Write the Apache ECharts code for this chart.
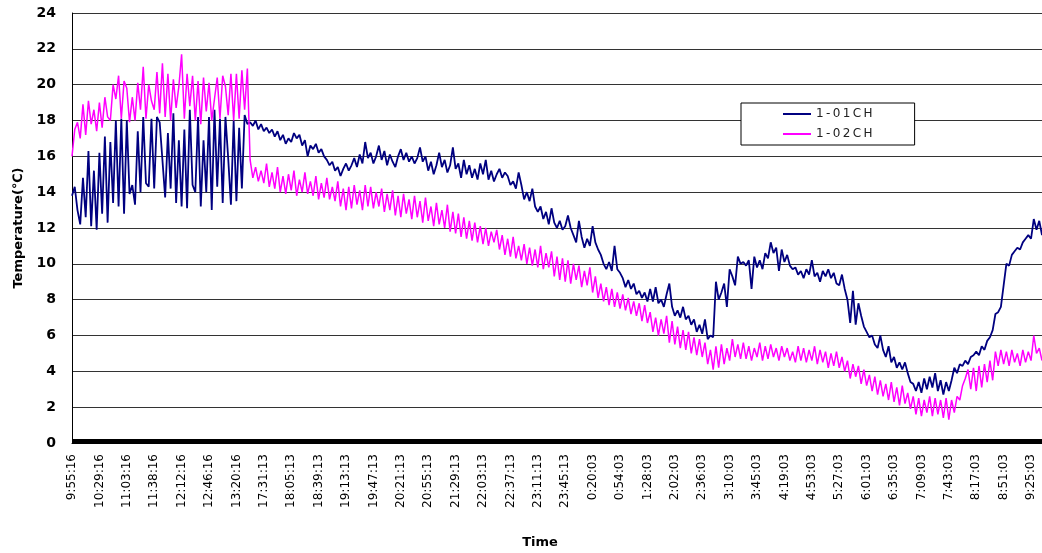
<!DOCTYPE html>
<html>
<head>
<meta charset="utf-8">
<script src="https://cdn.jsdelivr.net/npm/echarts@6/dist/echarts.min.js"></script>
<style>
html,body{margin:0;padding:0;background:#fff;}
#chart{width:1042px;height:553px;}
</style>
</head>
<body>
<div id="chart"></div>
<script>
// Tick labels shown every 10th sample
const tickLabels = ["9:55:16","10:29:16","11:03:16","11:38:16","12:12:16","12:46:16","13:20:16",
  "17:31:13","18:05:13","18:39:13","19:13:13","19:47:13","20:21:13","20:55:13","21:29:13","22:03:13",
  "22:37:13","23:11:13","23:45:13","0:20:03","0:54:03","1:28:03","2:02:03","2:36:03","3:10:03",
  "3:45:03","4:19:03","4:53:03","5:27:03","6:01:03","6:35:03","7:09:03","7:43:03","8:17:03",
  "8:51:03","9:25:03"];
const LABEL_STEP = 10;

const ch1 = [
 13.8,14.3,13.0,12.2,14.8,12.6,16.3,12.1,15.2,11.9,
 16.2,12.8,17.1,12.3,16.8,13.4,18.0,13.2,18.1,12.8,
 18.0,13.9,14.4,13.3,17.4,14.0,18.2,14.5,14.3,18.1,
 14.2,18.2,17.9,15.8,13.7,17.3,14.2,18.4,13.4,16.9,
 13.2,17.5,13.1,18.6,14.4,14.0,18.2,13.2,16.9,14.0,
 18.2,13.0,18.6,14.3,18.1,13.4,18.2,15.9,13.3,18.0,
 13.5,17.6,14.2,18.3,17.8,17.9,17.7,18.0,17.5,17.8,
 17.4,17.6,17.3,17.5,17.1,17.4,16.9,17.2,16.7,17.0,
 16.8,17.3,17.0,17.2,16.6,16.9,16.0,16.6,16.4,16.7,
 16.2,16.4,16.0,15.8,15.5,15.7,15.2,15.4,14.9,15.3,
 15.6,15.2,15.5,15.9,15.4,16.1,15.6,16.8,15.9,16.2,
 15.6,16.0,16.6,15.8,16.3,15.5,16.1,15.7,15.4,16.0,
 16.4,15.8,16.2,15.7,16.0,15.6,15.9,16.5,15.7,16.0,
 15.2,15.7,15.0,15.5,16.2,15.4,15.8,15.1,15.5,16.5,
 15.3,15.6,14.8,15.8,15.0,15.5,14.8,15.3,14.7,15.6,
 15.0,15.8,14.7,15.2,14.6,15.0,15.3,14.8,15.1,14.9,
 14.4,14.6,14.2,15.1,14.4,13.6,14.0,13.5,14.2,13.2,
 12.9,13.2,12.5,12.9,12.2,13.1,12.3,12.0,12.4,11.9,
 12.1,12.7,12.0,11.6,11.2,12.4,11.5,10.9,11.4,11.0,
 12.1,11.2,10.8,10.5,10.0,9.7,10.1,9.6,11.0,9.7,
 9.5,9.2,8.7,9.1,8.6,8.9,8.3,8.5,8.1,8.4,
 7.9,8.6,7.9,8.7,7.8,8.0,7.6,8.3,8.9,7.6,
 7.1,7.4,7.0,7.6,6.9,7.1,6.6,6.9,6.2,6.6,
 6.1,6.9,5.8,6.0,5.9,9.0,8.0,8.4,8.9,7.6,
 9.7,9.3,8.8,10.4,10.0,10.1,9.9,10.2,8.6,10.4,
 9.8,10.2,9.7,10.6,10.3,11.2,10.6,10.9,9.6,10.8,
 10.1,10.5,9.9,9.7,9.8,9.4,9.6,9.2,9.7,9.4,
 10.2,9.3,9.5,9.0,9.6,9.3,9.7,9.2,9.5,8.9,
 8.8,9.4,8.6,8.0,6.7,8.5,6.6,7.8,7.1,6.5,
 6.2,5.9,6.0,5.5,5.3,6.0,5.2,4.8,5.4,4.5,
 4.8,4.2,4.5,4.1,4.5,3.9,3.4,3.3,2.9,3.4,
 2.8,3.6,3.0,3.7,3.1,3.9,2.9,3.5,2.7,3.4,
 2.9,3.5,4.2,3.9,4.4,4.3,4.6,4.4,4.8,4.9,
 5.1,4.9,5.4,5.2,5.7,5.9,6.3,7.2,7.3,7.6,
 8.8,10.0,9.9,10.5,10.7,10.9,10.8,11.2,11.4,11.6,
 11.4,12.5,11.9,12.4,11.6
];

const ch2 = [
 16.0,17.5,17.9,17.0,18.9,17.2,19.1,17.8,18.6,17.4,
 19.0,17.6,19.3,18.2,18.0,20.0,19.2,20.5,18.1,20.2,
 19.8,17.9,19.3,18.0,20.1,18.6,21.0,18.1,20.0,19.1,
 18.6,20.7,18.4,21.2,18.2,20.6,18.0,20.3,18.7,19.9,
 21.7,18.1,20.6,18.8,20.5,18.0,20.2,17.8,20.4,18.5,
 20.1,18.0,19.2,20.4,18.1,20.5,19.9,18.3,20.6,18.0,
 20.6,18.1,20.8,18.6,20.9,15.8,14.8,15.4,14.6,15.2,
 14.5,15.6,14.3,15.1,14.2,15.4,14.0,14.9,13.9,15.0,
 14.1,15.2,13.8,14.7,14.0,15.1,13.9,14.6,13.8,14.9,
 13.6,14.5,13.7,14.8,13.6,14.3,13.5,14.6,13.2,14.2,
 13.0,14.3,13.1,14.4,13.3,14.1,13.0,14.4,13.2,14.3,
 13.1,14.0,13.2,14.2,12.9,13.9,13.0,14.1,12.7,13.8,
 12.6,13.9,12.8,13.6,12.5,13.8,12.6,13.5,12.3,13.7,
 12.4,13.2,12.1,13.4,12.2,13.0,12.0,13.3,11.8,12.9,
 11.7,12.8,11.5,12.6,11.4,12.4,11.3,12.3,11.2,12.1,
 11.1,12.0,11.0,11.8,11.2,11.9,10.8,11.6,10.5,11.4,
 10.4,11.5,10.3,11.0,10.2,11.1,10.0,10.9,9.9,10.8,
 9.8,11.0,9.7,10.6,9.8,10.7,9.3,10.4,9.1,10.3,
 9.0,10.2,8.9,10.0,9.1,9.9,8.7,9.6,8.8,9.8,
 8.4,9.3,8.1,8.9,7.9,8.7,7.7,8.6,7.6,8.4,
 7.5,8.3,7.4,8.1,7.2,7.9,7.1,7.8,6.8,7.7,
 6.7,7.3,6.2,7.0,6.0,6.9,6.1,7.1,5.6,6.8,
 5.5,6.5,5.3,6.3,5.2,6.2,5.0,5.9,4.9,5.8,
 4.8,5.6,4.4,5.2,4.1,5.4,4.2,5.5,4.4,5.3,
 4.6,5.8,4.8,5.5,4.7,5.6,4.7,5.4,4.6,5.3,
 4.8,5.6,4.6,5.4,4.7,5.5,4.8,5.3,4.6,5.4,
 4.8,5.3,4.6,5.1,4.5,5.4,4.6,5.3,4.5,5.2,
 4.6,5.4,4.4,5.2,4.5,5.1,4.2,5.0,4.3,5.1,
 4.2,4.8,4.0,4.6,3.6,4.4,3.7,4.3,3.3,4.1,
 3.2,3.8,2.9,3.7,2.7,3.5,2.6,3.3,2.4,3.4,
 2.3,3.1,2.1,3.2,2.2,2.8,1.9,2.6,1.6,2.5,
 1.5,2.4,1.7,2.6,1.5,2.5,1.6,2.4,1.4,2.5,
 1.3,2.4,1.7,2.6,2.4,3.2,3.6,4.1,3.0,4.2,
 2.9,4.3,3.1,4.4,3.4,4.6,3.5,5.1,4.3,5.2,
 4.4,5.1,4.3,5.2,4.5,5.0,4.3,5.2,4.5,5.1,
 4.6,6.0,5.0,5.3,4.6
];

const seriesNames = ["1-01CH", "1-02CH"];

// category axis built from tick labels (label on every LABEL_STEP-th sample)
const categories = ch1.map((_, i) => (i % LABEL_STEP === 0 ? (tickLabels[i / LABEL_STEP] || "") : ""));
// dense minute ticks (about 34 per label interval)
const minuteTicks = new Array(1204).fill("");

const chart = echarts.init(document.getElementById("chart"), null, {renderer: "canvas"});
const FONT = "DejaVu Sans";
chart.setOption({
  animation: false,
  backgroundColor: "#fff",
  grid: {left: 72, right: 0, top: 13, bottom: 110, containLabel: false},
  legend: {
    data: seriesNames,
    orient: "vertical",
    left: 741, top: 103,
    padding: [4, 42, 4, 42],
    itemGap: 6,
    itemWidth: 28, itemHeight: 2,
    icon: "rect",
    backgroundColor: "#fff",
    borderColor: "#000", borderWidth: 1, borderRadius: 0,
    formatter: n => n.split("").join("\u2009"),
    textStyle: {fontFamily: FONT, fontSize: 12, color: "#222", lineHeight: 14}
  },
  xAxis: [{
    type: "category",
    data: categories,
    boundaryGap: false,
    position: "bottom",
    axisLine: {lineStyle: {color: "#000", width: 1}},
    axisTick: {show: false},
    axisLabel: {interval: 0, rotate: 90, margin: 11, fontFamily: FONT, fontSize: 12, color: "#000"},
    splitLine: {show: false}
  }, {
    type: "category",
    gridIndex: 0,
    position: "bottom",
    data: minuteTicks,
    boundaryGap: false,
    axisLine: {show: false},
    axisLabel: {show: false},
    axisTick: {show: true, interval: 0, inside: true, length: 4, lineStyle: {color: "#000", width: 1}},
    splitLine: {show: false}
  }],
  yAxis: {
    type: "value",
    min: 0, max: 24, interval: 2,
    axisLine: {show: true, lineStyle: {color: "#000", width: 1}},
    axisTick: {show: false},
    axisLabel: {margin: 16, fontFamily: FONT, fontWeight: "bold", fontSize: 14, color: "#000"},
    splitLine: {lineStyle: {color: "#333", width: 1}},
    name: "Temperature(\u2103)",
    nameLocation: "middle",
    nameGap: 47,
    nameTextStyle: {fontFamily: FONT, fontWeight: "bold", fontSize: 13, color: "#000"}
  },
  graphic: [{
    type: "text", x: 540, y: 543,
    style: {text: "Time", textAlign: "center", textVerticalAlign: "middle",
            font: "bold 13px 'DejaVu Sans'", fill: "#000"}
  }],
  series: [{
    name: seriesNames[0], type: "line", data: ch1, xAxisIndex: 0,
    showSymbol: false, symbol: "none",
    lineStyle: {color: "#000080", width: 1.8}, itemStyle: {color: "#000080"}
  }, {
    name: seriesNames[1], type: "line", data: ch2, xAxisIndex: 0,
    showSymbol: false, symbol: "none",
    lineStyle: {color: "#FF00FF", width: 1.5}, itemStyle: {color: "#FF00FF"}
  }]
});
</script>
</body>
</html>
